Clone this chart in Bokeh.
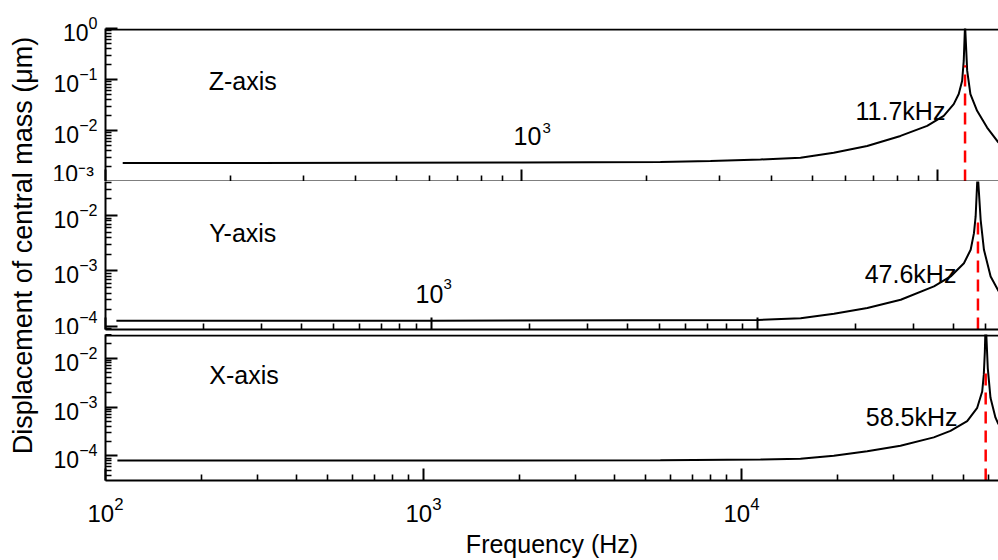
import math
from bokeh.plotting import figure
from bokeh.models import FixedTicker, Label, Range1d, Span
from bokeh.layouts import row, column
from bokeh.embed import file_html
from bokeh.resources import INLINE

FONT = "Liberation Sans"

# ---- data ----
z_freq = [110, 1000, 2158, 2847, 3754, 4685, 5632, 6776, 8150, 9446, 10353, 10943, 11250, 11465, 11567, 11650,
          11788, 12001, 12454, 13163, 14020]
z_disp = [2.30e-3, 2.35e-3, 2.41e-3, 2.52e-3, 2.70e-3, 2.93e-3, 3.67e-3, 4.98e-3, 7.83e-3, 1.23e-2, 1.94e-2, 3.29e-2,
          5.19e-2, 9.47e-2, 0.234, 1.2, 0.149, 5.19e-2, 2.43e-2, 1.14e-2, 5.78e-3]

y_freq = [108, 1000, 10000, 13550, 17150, 21700, 27470, 34740, 39090, 42930, 45020, 46080, 46630, 47300,
          48310, 49450, 51840, 54860]
y_disp = [1.27e-4, 1.27e-4, 1.31e-4, 1.41e-4, 1.69e-4, 2.14e-4, 3.03e-4, 5.26e-4, 7.96e-4, 1.38e-3, 2.41e-3,
          4.80e-3, 9.6e-3, 6e-2, 8.37e-3, 2.41e-3, 7.96e-4, 4.28e-4]

x_freq = [109, 1000, 5560, 11480, 15330, 19510, 24850, 31620, 40240, 45420, 51260, 55110, 57140, 57800, 58240,
          58600, 59500, 60680, 62910, 64300]
x_disp = [8.0e-5, 8.0e-5, 8.1e-5, 8.4e-5, 8.7e-5, 1.01e-4, 1.24e-4, 1.61e-4, 2.39e-4, 3.24e-4, 5.16e-4, 9.64e-4,
          2.08e-3, 4.54e-3, 1.34e-2, 6e-2, 6.2e-3, 1.54e-3, 6.05e-4, 4.43e-4]

panel_names = ["Z-axis", "Y-axis", "X-axis"]
res_freq = [11650, 47400, 58600]
res_labels = ["11.7kHz", "47.6kHz", "58.5kHz"]
res_top = [0.19, 9.6e-3, 6.3e-3]

x_ranges = [(100, 14020), (100, 54800), (100, 64300)]
y_ranges = [(1e-3, 1.0), (8.8e-5, 0.041), (3.13e-5, 0.0305)]

x_major = [100, 1000, 10000]
y_major = [[1e-2, 1e-1, 1e0], [1e-4, 1e-3, 1e-2], [1e-4, 1e-3, 1e-2]]


def minors(lo, hi):
    out = []
    for d in range(-6, 6):
        for k in range(2, 10):
            v = k * 10.0 ** d
            if lo <= v <= hi:
                out.append(v)
    return out


def style_axis(ax, label_size="24px"):
    ax.axis_line_width = 2
    ax.axis_line_color = "black"
    ax.major_tick_in = 12
    ax.major_tick_out = 0
    ax.minor_tick_in = 6
    ax.minor_tick_out = 0
    ax.major_tick_line_width = 2
    ax.minor_tick_line_width = 1.6
    ax.major_tick_line_color = "black"
    ax.minor_tick_line_color = "black"
    ax.major_label_text_font = FONT
    ax.major_label_text_font_size = label_size
    ax.major_label_text_color = "black"


def make_panel(i, height, top_border, bottom_border, show_xlabels):
    xr, yr = x_ranges[i], y_ranges[i]
    p = figure(width=953, height=height, x_axis_type="log", y_axis_type="log",
               x_range=Range1d(*xr), y_range=Range1d(*yr),
               output_backend="svg", toolbar_location=None,
               min_border_left=60, min_border_right=0,
               min_border_top=top_border, min_border_bottom=bottom_border)
    p.outline_line_color = None
    p.grid.visible = False

    xa = p.xaxis[0]
    xa.ticker = FixedTicker(ticks=x_major, minor_ticks=minors(xr[0], xr[1]))
    style_axis(xa)
    if not show_xlabels:
        xa.major_label_text_font_size = "1px"
        xa.major_label_text_alpha = 0
        xa.major_label_standoff = 0
    else:
        xa.major_label_standoff = 16

    ya = p.yaxis[0]
    ya.ticker = FixedTicker(ticks=y_major[i], minor_ticks=minors(yr[0], yr[1]))
    style_axis(ya, "23px")
    ya.major_label_standoff = 8
    return p, xa


p1, xa1 = make_panel(0, 181, 28, 0, False)
p2, xa2 = make_panel(1, 153, 0, 5, False)
p3, xa3 = make_panel(2, 226, 0, 78, True)
panels = [p1, p2, p3]
curves = [(z_freq, z_disp), (y_freq, y_disp), (x_freq, x_disp)]

# top border lines of the first and last panel (right side stays open, as in the cut-off original)
p1.add_layout(Span(location=y_ranges[0][1] * 0.955, dimension="width", line_color="black", line_width=2))
p3.add_layout(Span(location=y_ranges[2][1] * 0.954, dimension="width", line_color="black", line_width=2))

# top panel's lowest y label sits just above its tick; kept in the top side panel so it is not clipped
p1.add_layout(Label(x=74.6, y=1.38e-3, text="10⁻³", text_font=FONT, text_font_size="23px",
                    text_align="left", text_baseline="middle", text_color="black"), "above")

name_pos = [(177, 0.094), (208, 4.74e-3), (212, 4.54e-3)]
res_pos = [(10450, 0.024), (40700, 8.65e-4), (47800, 6.14e-4)]

for i, p in enumerate(panels):
    f, d = curves[i]
    p.line(f, d, line_color="black", line_width=2)
    p.line([res_freq[i], res_freq[i]], [y_ranges[i][0], res_top[i]],
           line_color="#ff0000", line_width=2.5, line_dash="12 7")
    nx, ny = name_pos[i]
    p.add_layout(Label(x=nx, y=ny, text=panel_names[i], text_font=FONT, text_font_size="25px",
                       text_align="left", text_baseline="middle", text_color="black"))
    rx, ry = res_pos[i]
    p.add_layout(Label(x=rx, y=ry, text=res_labels[i], text_font=FONT, text_font_size="25px",
                       text_align="right", text_baseline="middle", text_color="black"))

# inner "10^3" labels of the top and middle panels
inner = [(p1, 957, 7.7e-3, 1123, 1.12e-2), (p2, 893, 3.86e-4, 1088, 5.83e-4)]
for p, bx, by, ex, ey in inner:
    p.add_layout(Label(x=bx, y=by, text="10", text_font=FONT, text_font_size="25px",
                       text_align="left", text_baseline="middle", text_color="black"))
    p.add_layout(Label(x=ex, y=ey, text="3", text_font=FONT, text_font_size="15px",
                       text_align="left", text_baseline="middle", text_color="black"))

xa3.axis_label = "Frequency (Hz)"
xa3.axis_label_text_font = FONT
xa3.axis_label_text_font_size = "25px"
xa3.axis_label_text_font_style = "normal"
xa3.axis_label_text_color = "black"
xa3.axis_label_standoff = 5

lab = figure(width=45, height=560, output_backend="svg", toolbar_location=None,
             x_range=Range1d(0, 1), y_range=Range1d(0, 1), min_border=0,
             x_axis_location=None, y_axis_location=None)
lab.grid.visible = False
lab.outline_line_color = None
lab.add_layout(Label(x=0.49, y=0.5625, text="Displacement of central mass (μm)", angle=math.pi / 2,
                     text_align="center", text_baseline="middle", text_font=FONT,
                     text_font_size="27px", text_color="black"))

layout = row(lab, column(p1, p2, p3))
open("out.html", "w").write(file_html(layout, INLINE))
